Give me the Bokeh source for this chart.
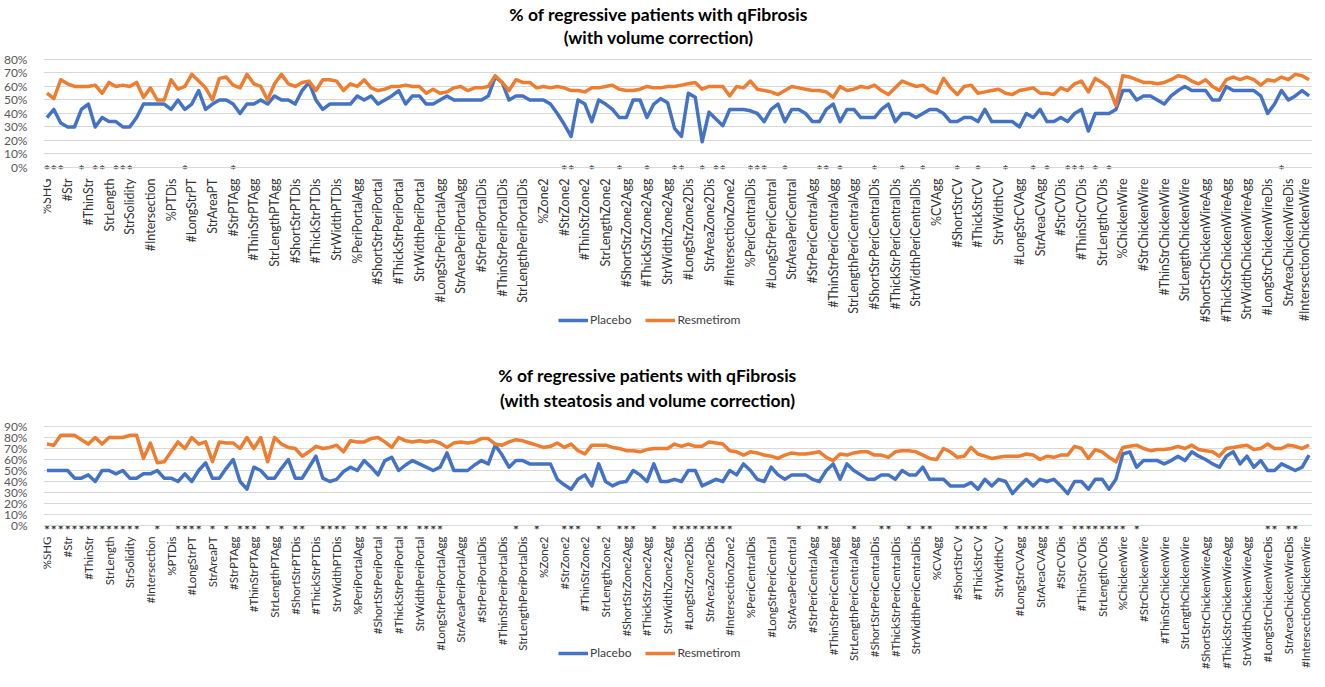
import numpy as np
from bokeh.plotting import figure
from bokeh.models import (FixedTicker, PrintfTickFormatter, Legend, LegendItem,
                          Label, Range1d, ColumnDataSource)
from bokeh.layouts import column
from bokeh.embed import file_html
from bokeh.resources import INLINE
from bokeh.core.properties import value

# ---------------- categories ----------------
shg_features = ["%SHG", "%SHGAgg", "%SHGDis", "#Str", "#ShortStr", "#LongStr", "#ThinStr",
                "#ThickStr", "StrArea", "StrLength", "StrWidth", "StrPerimeter",
                "StrSolidity", "StrEccentricity", "#Branch", "#Intersection"]
regions = ["PT", "PeriPortal", "Zone2", "PeriCentral", "CV", "ChickenWire"]
region_features = ["#Str", "#ShortStr", "#LongStr", "#ThinStr", "#ThickStr",
                   "StrArea", "StrLength", "StrWidth"]
variants = ["", "Agg", "Dis"]

categories = list(shg_features)
for r in regions:
    categories += ["%" + r + v for v in variants]
    for v in variants:
        categories += [f + r + v for f in region_features]
    categories.append("#Intersection" + r)

# ---------------- data: volume correction ----------------
placebo_vol = [37, 43, 33, 30, 30, 43, 47, 30, 37, 34, 34, 30, 30, 37, 47, 47, 47, 47, 43, 50, 43, 47, 57, 43, 47, 50, 50, 47, 40, 47, 47, 50, 47, 53, 50, 50, 47, 57, 63, 50, 43, 47,
               47, 47, 47, 53, 50, 53, 47, 50, 53, 57, 47, 53, 53, 47, 47, 50, 53, 50, 50, 50, 50, 50, 53, 67, 63, 50, 53, 53, 50, 50, 50, 47, 40, 32, 23, 50, 47, 34, 50, 47, 43, 37, 37, 50, 50, 37, 47,
               51, 48, 29, 23, 55, 52, 19, 41, 36, 31, 43, 43, 43, 42, 40, 34, 43, 47, 34, 43, 43, 40, 34, 34, 43, 47, 34, 43, 43, 37, 37, 37, 43, 47, 34, 40, 40, 37, 40, 43, 43, 40, 34, 34, 37, 37, 34, 43,
               34, 34, 34, 34, 30, 40, 37, 43, 34, 34, 37, 34, 40, 43, 27, 40, 40, 40, 43, 57, 57, 50, 53, 53, 50, 47, 53, 57, 60, 57, 57, 57, 50, 50, 60, 57, 57, 57, 57, 53, 40, 47, 57, 50, 53, 57, 53]
resmetirom_vol = [55, 51, 65, 62, 60, 60, 60, 61, 55, 63, 60, 61, 60, 63, 52, 59, 50, 50, 65, 58, 60, 69, 64, 59, 50, 66, 67, 61, 59, 69, 62, 60, 50, 62, 69, 62, 60, 63, 64, 57, 65, 65,
                  64, 57, 62, 60, 65, 59, 57, 58, 60, 60, 61, 60, 60, 55, 58, 55, 56, 59, 60, 57, 59, 59, 60, 68, 63, 57, 65, 63, 63, 59, 60, 59, 60, 59, 57, 57, 56, 59, 59, 60, 61, 58, 57, 57, 58, 60, 59,
                  59, 60, 60, 61, 62, 63, 58, 60, 60, 60, 53, 60, 59, 64, 58, 57, 56, 54, 57, 60, 59, 58, 57, 57, 56, 52, 60, 57, 58, 60, 59, 61, 57, 54, 59, 64, 62, 60, 61, 57, 55, 66, 59, 54, 60, 61, 55, 56,
                  57, 58, 55, 54, 57, 58, 59, 55, 55, 54, 59, 57, 62, 64, 56, 66, 63, 59, 46, 68, 67, 65, 63, 63, 62, 63, 65, 68, 67, 64, 62, 65, 60, 57, 65, 67, 65, 67, 65, 61, 65, 64, 67, 65, 69, 68, 65]
stars_vol = [0, 1, 2, 5, 7, 8, 10, 11, 12, 20, 27, 75, 76, 79, 83, 87, 91, 92, 95, 97, 98,
             102, 103, 104, 107, 112, 113, 115, 120, 124, 127, 132, 135, 139, 143, 145,
             148, 149, 150, 152, 154, 179]

# ---------------- data: steatosis + volume correction ----------------
placebo_stv = [50, 50, 50, 50, 43, 43, 46, 40, 50, 50, 47, 50, 43, 43, 47, 47, 50, 43, 43, 40, 47, 40, 50, 57, 43, 43, 52, 60, 40, 33, 53, 50, 43, 43, 52, 60, 43, 43, 53, 63, 43, 40,
               42, 49, 53, 50, 59, 53, 46, 59, 62, 50, 55, 59, 56, 53, 50, 53, 66, 50, 50, 50, 55, 59, 56, 73, 64, 53, 59, 59, 56, 56, 56, 56, 42, 37, 33, 42, 46, 36, 56, 40, 36, 39, 40, 50, 46, 40, 56,
               40, 40, 42, 40, 50, 50, 36, 39, 42, 40, 50, 46, 56, 50, 42, 40, 53, 46, 42, 46, 46, 46, 42, 40, 50, 56, 42, 56, 50, 46, 42, 42, 46, 46, 42, 50, 46, 46, 53, 42, 42, 42, 36, 36, 36, 39, 33, 42,
               36, 42, 40, 29, 36, 42, 36, 42, 40, 42, 36, 29, 40, 40, 33, 42, 42, 33, 42, 65, 67, 53, 59, 59, 59, 56, 59, 63, 59, 67, 63, 60, 56, 53, 63, 67, 56, 63, 53, 59, 50, 50, 56, 53, 50, 53, 64]
resmetirom_stv = [74, 73, 82, 82, 82, 78, 74, 80, 74, 80, 80, 80, 82, 82, 61, 75, 57, 58, 67, 76, 70, 80, 74, 76, 58, 76, 75, 75, 70, 80, 70, 80, 58, 80, 74, 71, 70, 63, 67, 72, 70, 71,
                  73, 67, 77, 76, 76, 79, 80, 76, 71, 80, 77, 76, 77, 76, 77, 75, 71, 75, 76, 75, 76, 79, 79, 74, 73, 76, 78, 77, 75, 73, 71, 72, 75, 71, 74, 68, 65, 73, 73, 73, 71, 70, 68, 68, 67, 69, 70,
                  70, 70, 74, 72, 74, 72, 72, 76, 75, 74, 68, 67, 64, 67, 66, 64, 63, 61, 64, 66, 65, 65, 66, 67, 62, 59, 65, 64, 66, 67, 67, 64, 64, 62, 67, 68, 68, 67, 64, 61, 60, 70, 67, 62, 63, 71, 65, 63,
                  61, 62, 63, 63, 63, 65, 64, 60, 63, 62, 64, 64, 72, 70, 61, 69, 67, 62, 58, 71, 72, 73, 70, 68, 69, 69, 70, 72, 70, 73, 69, 68, 67, 63, 70, 71, 72, 73, 69, 70, 74, 70, 70, 73, 72, 70, 73]
stars_stv = (list(range(0, 14)) + [16, 19, 20, 21, 22, 24, 26, 28, 29, 30, 32, 34, 36, 37,
             40, 41, 42, 43, 45, 46, 48, 49, 51, 52, 54, 55, 56, 57, 68, 71, 75, 76, 77, 80,
             83, 84, 85, 88] + list(range(91, 100)) + [109, 112, 113, 117, 121, 122, 125,
             127, 128] + list(range(132, 137)) + [139] + list(range(141, 146)) + [147]
             + list(range(149, 157)) + [158, 177, 178, 180, 181])

title_line1 = "% of regressive patients with qFibrosis"
title_vol = "(with volume correction)"
title_stv = "(with steatosis and volume correction)"

BLUE = "#4472C4"
ORANGE = "#ED7D31"
FONT = "Lato"


def make_chart(line2, placebo, resm, stars, ymax, y_lo, y_hi, frame_h,
               t1_y, t2_y, title_x, star_y, legend_y, xlabel_size):
    n = len(categories)
    p = figure(output_backend="svg", toolbar_location=None,
               x_range=Range1d(-0.5, n - 0.5), y_range=Range1d(y_lo, y_hi),
               frame_width=1269, frame_height=frame_h,
               min_border_left=40, min_border_right=0,
               min_border_top=0, min_border_bottom=0,
               outline_line_color=None)
    x = list(range(n))
    r1 = p.line(x, placebo, line_color=BLUE, line_width=3.5, line_join="round")
    r2 = p.line(x, resm, line_color=ORANGE, line_width=3.5, line_join="round")

    src = ColumnDataSource(dict(x=stars, y=[star_y] * len(stars), t=["*"] * len(stars)))
    p.text(x="x", y="y", text="t", source=src, text_align="center",
           text_baseline="middle", text_font=value(FONT), text_font_size="14px",
           text_color="#333333", text_font_style="bold")

    p.xgrid.visible = False
    p.ygrid.grid_line_color = "#d9d9d9"
    p.ygrid.grid_line_width = 1

    p.yaxis.ticker = FixedTicker(ticks=list(range(0, ymax + 1, 10)))
    p.yaxis.formatter = PrintfTickFormatter(format="%d%%")
    p.yaxis.axis_line_color = None
    p.yaxis.major_tick_line_color = None
    p.yaxis.minor_tick_line_color = None
    p.yaxis.major_label_standoff = 10
    p.yaxis.major_label_text_font = FONT
    p.yaxis.major_label_text_font_size = "12px"
    p.yaxis.major_label_text_color = "#595959"

    ticks = list(range(0, n, 3))
    p.xaxis.fixed_location = 0
    p.xaxis.ticker = FixedTicker(ticks=ticks)
    p.xaxis.major_label_overrides = {t: categories[t] for t in ticks}
    p.xaxis.major_label_orientation = np.pi / 2
    p.xaxis.axis_line_color = "#d9d9d9"
    p.xaxis.major_tick_line_color = None
    p.xaxis.minor_tick_line_color = None
    p.xaxis.major_label_standoff = 5
    p.xaxis.major_label_text_font = FONT
    p.xaxis.major_label_text_font_size = xlabel_size
    p.xaxis.major_label_text_color = "#333333"

    for txt, yy in ((title_line1, t1_y), (line2, t2_y)):
        p.add_layout(Label(x=title_x, y=yy, text=txt, text_align="center",
                           text_baseline="middle", text_font=FONT,
                           text_font_size="17.5px", text_font_style="bold",
                           text_color="#000000"))

    legend = Legend(items=[LegendItem(label="Placebo", renderers=[r1]),
                           LegendItem(label="Resmetirom", renderers=[r2])],
                    location=(515, legend_y), orientation="horizontal",
                    glyph_width=30, glyph_height=14, label_standoff=2, spacing=14,
                    padding=0, margin=0, border_line_color=None,
                    background_fill_color="white", background_fill_alpha=1.0,
                    label_text_font=FONT, label_text_font_size="12px",
                    label_text_color="#404040")
    p.add_layout(legend)
    return p


# top: 0..80 maps to page y 175..67 (1.35 px per %), figure spans page y 8..360
p1 = make_chart(title_vol, placebo_vol, resmetirom_vol, stars_vol, 80,
                -137.04, 123.70, 352, 113.3, 96.3, 88.7, -1.3, 25, "12.5px")
# bottom: 0..90 maps to page y 533..434 (1.1 px per %), figure spans page y 360..679
p2 = make_chart(title_stv, placebo_stv, resmetirom_stv, stars_stv, 90,
                -132.73, 157.27, 319, 136.4, 113.6, 87.1, -3.8, 11, "11.5px")

layout = column(p1, p2, spacing=0)
open("out.html", "w").write(file_html(layout, INLINE))
